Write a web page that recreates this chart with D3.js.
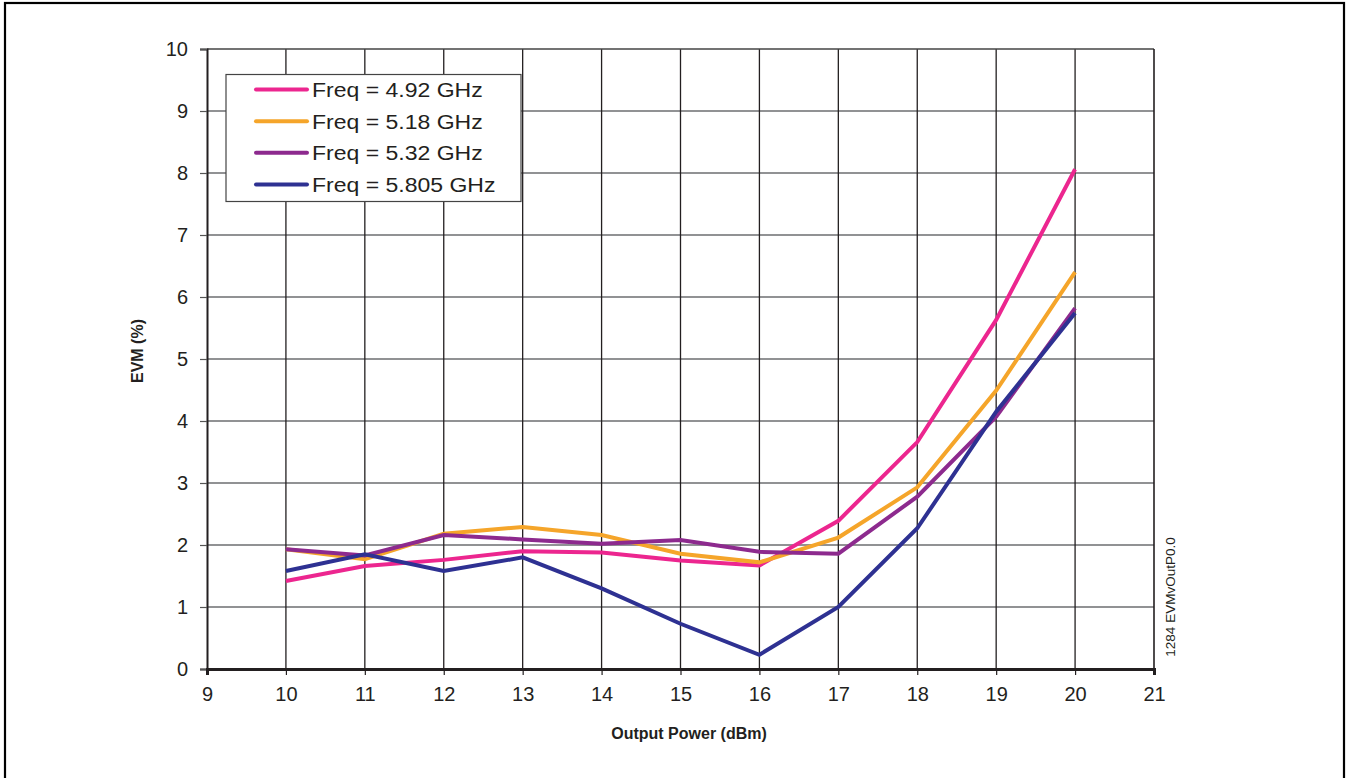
<!DOCTYPE html>
<html>
<head>
<meta charset="utf-8">
<script src="https://cdn.jsdelivr.net/npm/d3@7"></script>
<style>
  html, body { margin: 0; padding: 0; background: #fff; }
  svg { display: block; }
  text { font-family: "Liberation Sans", Arial, sans-serif; fill: #231f20; }
</style>
</head>
<body>
<svg id="chart" width="1350" height="778"></svg>
<script>
// Output power sweep (dBm)
const power = [10, 11, 12, 13, 14, 15, 16, 17, 18, 19, 20];

// EVM (%) for each test frequency
const evm492  = [1.42, 1.66, 1.76, 1.90, 1.88, 1.75, 1.67, 2.39, 3.66, 5.63, 8.06];
const evm518  = [1.93, 1.77, 2.18, 2.29, 2.16, 1.86, 1.72, 2.12, 2.93, 4.49, 6.40];
const evm532  = [1.93, 1.83, 2.16, 2.09, 2.02, 2.08, 1.89, 1.86, 2.78, 4.07, 5.82];
const evm5805 = [1.58, 1.85, 1.58, 1.80, 1.30, 0.73, 0.23, 1.00, 2.27, 4.15, 5.74];

const seriesNames  = ["Freq = 4.92 GHz", "Freq = 5.18 GHz", "Freq = 5.32 GHz", "Freq = 5.805 GHz"];
const seriesColors = ["#ec268f", "#f5a52a", "#8d2a8e", "#2e3192"];
const seriesValues = [evm492, evm518, evm532, evm5805];

const xTicks = [9, 10, 11, 12, 13, 14, 15, 16, 17, 18, 19, 20, 21];
const yTicks = [0, 1, 2, 3, 4, 5, 6, 7, 8, 9, 10];

const xTitle = "Output Power (dBm)";
const yTitle = "EVM (%)";
const sideNote = "1284 EVMvOutP0.0";

const svg = d3.select("#chart");
const plot = { left: 207, right: 1154, top: 49, bottom: 669 };

const x = d3.scaleLinear().domain([9, 21]).range([plot.left, plot.right]);
const y = d3.scaleLinear().domain([0, 10]).range([plot.bottom, plot.top]);

// outer frame
svg.append("rect")
  .attr("x", 5).attr("y", 3).attr("width", 1339).attr("height", 790)
  .attr("fill", "none").attr("stroke", "#000").attr("stroke-width", 2.2);

// horizontal gridlines
svg.append("g").selectAll("line")
  .data(yTicks.filter(d => d > 0 && d < 10))
  .join("line")
  .attr("x1", plot.left).attr("x2", plot.right)
  .attr("y1", d => y(d)).attr("y2", d => y(d))
  .attr("stroke", "#6d6e71").attr("stroke-width", 1.3);

// vertical gridlines
svg.append("g").selectAll("line")
  .data(xTicks.filter(d => d > 9 && d < 21))
  .join("line")
  .attr("x1", d => x(d)).attr("x2", d => x(d))
  .attr("y1", plot.top).attr("y2", plot.bottom)
  .attr("stroke", "#231f20").attr("stroke-width", 1.3);

// plot frame: top and right edges
svg.append("line")
  .attr("x1", plot.left).attr("x2", plot.right)
  .attr("y1", plot.top).attr("y2", plot.top)
  .attr("stroke", "#444").attr("stroke-width", 1.3);
svg.append("line")
  .attr("x1", plot.right).attr("x2", plot.right)
  .attr("y1", plot.top).attr("y2", plot.bottom)
  .attr("stroke", "#231f20").attr("stroke-width", 1.6);

// y axis
const yAxis = svg.append("g")
  .attr("transform", `translate(${plot.left},0)`)
  .call(d3.axisLeft(y).tickValues(yTicks).tickSize(7).tickPadding(12).tickFormat(d3.format("d")));
yAxis.select(".domain").attr("stroke", "#231f20").attr("stroke-width", 2);
yAxis.selectAll(".tick line").attr("stroke", "#555").attr("stroke-width", 1.2);
yAxis.selectAll(".tick text").attr("font-size", 20).attr("fill", "#231f20")
  .attr("font-family", "Liberation Sans, Arial, sans-serif");

// x axis
const xAxis = svg.append("g")
  .attr("transform", `translate(0,${plot.bottom})`)
  .call(d3.axisBottom(x).tickValues(xTicks).tickSize(6).tickPadding(12).tickFormat(d3.format("d")));
xAxis.select(".domain").attr("stroke", "#231f20").attr("stroke-width", 3);
xAxis.selectAll(".tick line").attr("stroke", "#231f20").attr("stroke-width", 1.2);
xAxis.selectAll(".tick text").attr("font-size", 20).attr("fill", "#231f20")
  .attr("font-family", "Liberation Sans, Arial, sans-serif");

// series lines
const line = d3.line()
  .x((d, i) => x(power[i]))
  .y(d => y(d));

svg.append("g").selectAll("path")
  .data(seriesValues)
  .join("path")
  .attr("d", d => line(d))
  .attr("fill", "none")
  .attr("stroke", (d, i) => seriesColors[i])
  .attr("stroke-width", 4)
  .attr("stroke-linejoin", "miter")
  .attr("stroke-linecap", "butt");

// axis titles
svg.append("text")
  .attr("x", 689).attr("y", 739)
  .attr("text-anchor", "middle")
  .attr("font-size", 16).attr("font-weight", "bold")
  .text(xTitle);

svg.append("text")
  .attr("transform", "translate(143,351) rotate(-90)")
  .attr("text-anchor", "middle")
  .attr("font-size", 16).attr("font-weight", "bold")
  .text(yTitle);

// side note
svg.append("text")
  .attr("transform", "translate(1175,597) rotate(-90)")
  .attr("text-anchor", "middle")
  .attr("font-size", 13.5)
  .text(sideNote);

// legend
const legend = svg.append("g");
legend.append("rect")
  .attr("x", 226).attr("y", 74.5).attr("width", 295).attr("height", 127)
  .attr("fill", "#fff").attr("stroke", "#444").attr("stroke-width", 1.2);

const rowY = d3.scalePoint().domain(d3.range(seriesNames.length)).range([89.5, 184.5]);
const rows = legend.selectAll("g.row")
  .data(seriesNames)
  .join("g")
  .attr("class", "row")
  .attr("transform", (d, i) => `translate(0,${rowY(i)})`);
rows.append("line")
  .attr("x1", 256).attr("x2", 307)
  .attr("stroke", (d, i) => seriesColors[i])
  .attr("stroke-width", 4)
  .attr("stroke-linecap", "round");
rows.append("text")
  .attr("x", 312).attr("y", 7.5)
  .attr("font-size", 20)
  .text(d => d)
  .each(function () {
    // legend labels are set slightly wide
    const w = this.getComputedTextLength();
    d3.select(this).attr("textLength", w * 1.15).attr("lengthAdjust", "spacingAndGlyphs");
  });
</script>
</body>
</html>
